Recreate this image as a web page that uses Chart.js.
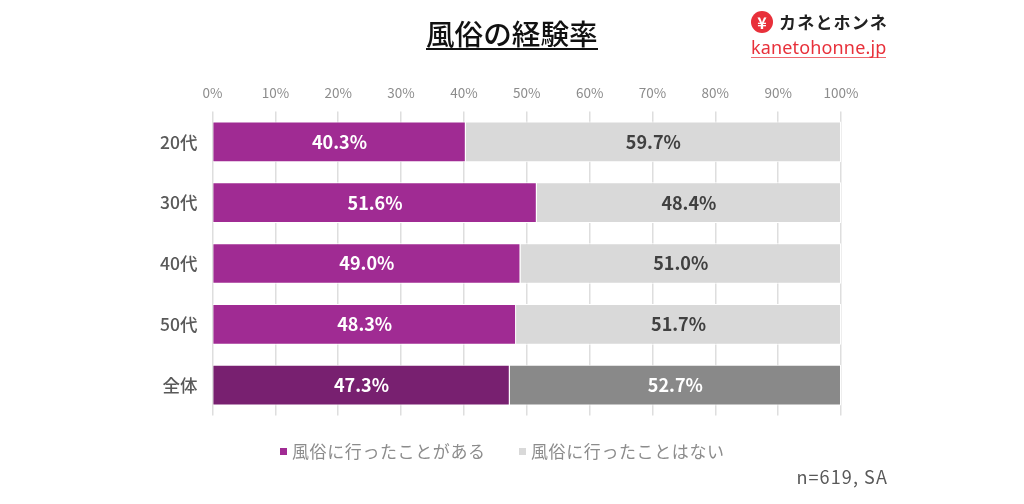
<!DOCTYPE html>
<html lang="ja">
<head>
<meta charset="utf-8">
<title>風俗の経験率</title>
<script src="https://cdn.jsdelivr.net/npm/chart.js@4/dist/chart.umd.min.js"></script>
<style>
html,body{margin:0;padding:0;background:#fff;overflow:hidden}
#wrap{position:relative;width:1024px;height:504px;font-family:"Noto Sans CJK JP",sans-serif}
#wrap canvas{position:absolute;left:0;top:0}
.abs{position:absolute;white-space:nowrap}
#title{left:426px;top:13px;font-size:28.6px;line-height:40px;font-weight:500;color:#111;border-bottom:2px solid #111;height:35px}
#yen{left:751px;top:11px;width:22px;height:22px;border-radius:50%;background:#e8303a;color:#fff;font-size:16px;line-height:22px;text-align:center;font-weight:700}
#brand{left:779px;top:9px;font-size:17px;line-height:26px;font-weight:700;color:#222;letter-spacing:1.2px}
#site{left:751px;top:35px;font-size:18px;line-height:25px;color:#e8303a;font-family:"Noto Sans",sans-serif;border-bottom:1px solid #ee6a70;height:22px;letter-spacing:.15px}
#note{right:136px;top:463px;font-size:18px;line-height:26px;color:#595959;letter-spacing:1.1px}
.leg{top:438px;font-size:17px;line-height:26px;color:#8c8c8c;letter-spacing:.6px}
.sw{top:448px;width:7px;height:7px}
</style>
</head>
<body>
<div id="wrap">
<canvas id="myChart" width="1024" height="504"></canvas>
<div class="abs" id="title"></div>
<div class="abs" id="yen">¥</div>
<div class="abs" id="brand">カネとホンネ</div>
<div class="abs" id="site">kanetohonne.jp</div>
<div class="abs sw" style="left:280px;background:#a02b93"></div>
<div class="abs leg" id="leg0" style="left:292px"></div>
<div class="abs sw" style="left:519px;background:#d9d9d9"></div>
<div class="abs leg" id="leg1" style="left:531px"></div>
<div class="abs" id="note"></div>
</div>
<script>
var titulo = "風俗の経験率";
var nota = "n=619, SA";
var categorias = ["20代", "30代", "40代", "50代", "全体"];
var nombreSi = "風俗に行ったことがある";
var nombreNo = "風俗に行ったことはない";
var valoresSi = [40.3, 51.6, 49.0, 48.3, 47.3];
var valoresNo = [59.7, 48.4, 51.0, 51.7, 52.7];
var coloresSi = ["#a02b93", "#a02b93", "#a02b93", "#a02b93", "#782070"];
var coloresNo = ["#d9d9d9", "#d9d9d9", "#d9d9d9", "#d9d9d9", "#898989"];
var textoNo = ["#404040", "#404040", "#404040", "#404040", "#ffffff"];

document.getElementById("title").textContent = titulo;
document.getElementById("note").textContent = nota;
document.getElementById("leg0").textContent = nombreSi;
document.getElementById("leg1").textContent = nombreNo;

var fuente = '"Noto Sans CJK JP", sans-serif';

// etiquetas dentro de las barras
var etiquetas = {
	id: "etiquetas",
	afterDatasetsDraw: function(chart){
		var ctx = chart.ctx;
		ctx.save();
		ctx.font = "700 18px " + fuente;
		ctx.textAlign = "center";
		ctx.textBaseline = "middle";
		chart.data.datasets.forEach(function(ds, d){
			chart.getDatasetMeta(d).data.forEach(function(bar, i){
				var c = bar.getCenterPoint();
				ctx.fillStyle = d == 0 ? "#ffffff" : textoNo[i];
				ctx.fillText(ds.data[i].toFixed(1) + "%", c.x, c.y);
			});
		});
		ctx.restore();
	}
};

new Chart(document.getElementById("myChart"), {
	type: "bar",
	data: {
		labels: categorias,
		datasets: [
			{ label: nombreSi, data: valoresSi, backgroundColor: coloresSi, borderColor: "#ffffff", borderWidth: 1 },
			{ label: nombreNo, data: valoresNo, backgroundColor: coloresNo, borderColor: "#ffffff", borderWidth: 1 }
		]
	},
	options: {
		indexAxis: "y",
		responsive: false,
		animation: false,
		barPercentage: 0.67,
		categoryPercentage: 1,
		layout: { padding: { top: 0, right: 183, bottom: 88.5, left: 0 } },
		plugins: { legend: { display: false }, title: { display: false }, tooltip: { enabled: false } },
		scales: {
			x: {
				position: "top",
				stacked: true,
				min: 0,
				max: 100,
				afterFit: function(s){ s.height = 111.5; },
				ticks: {
					stepSize: 10,
					padding: 11,
					color: "#8c8c8c",
					font: { family: fuente, size: 13.5 },
					maxRotation: 0,
					callback: function(v){ return v + "%"; }
				},
				grid: { color: "#dedede", lineWidth: 1.5, tickLength: 0 },
				border: { display: false }
			},
			y: {
				stacked: true,
				afterFit: function(s){ s.width = 212.5; },
				ticks: {
					padding: 7,
					color: "#595959",
					font: { family: fuente, size: 17.5, weight: "500" }
				},
				grid: { display: false },
				border: { display: false }
			}
		}
	},
	plugins: [etiquetas]
});
</script>
</body>
</html>
